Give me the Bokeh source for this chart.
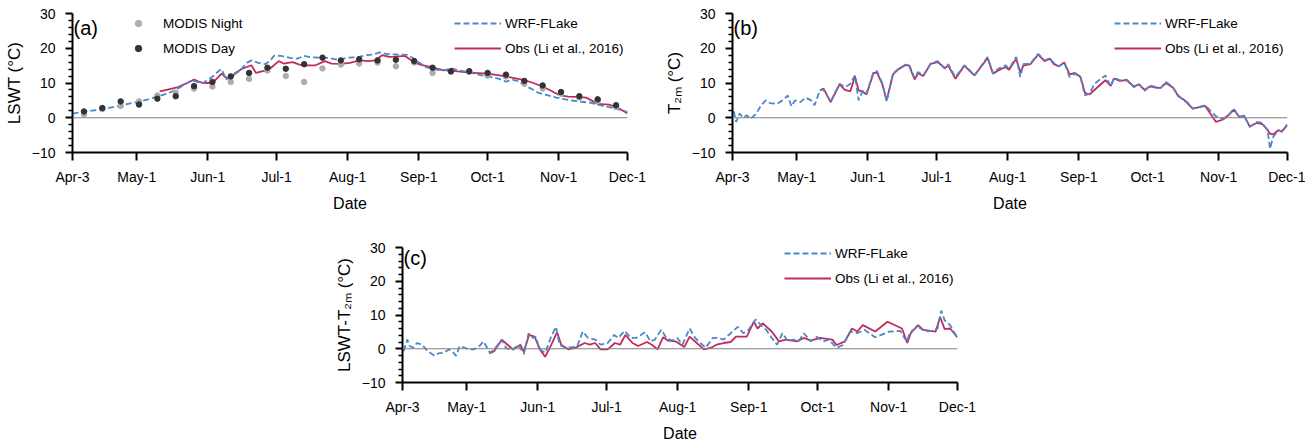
from bokeh.plotting import figure
from bokeh.models import Range1d, FixedTicker, Span, Legend, LegendItem, Label, Spacer
from bokeh.layouts import column, row
from bokeh.embed import file_html
from bokeh.resources import INLINE

# ---------------- data (days since Apr-3, values in degC) ----------------
tick_days = [0, 28, 59, 89, 120, 151, 181, 212, 242]
tick_labels = ["Apr-3", "May-1", "Jun-1", "Jul-1", "Aug-1", "Sep-1", "Oct-1", "Nov-1", "Dec-1"]
y_major = [-10, 0, 10, 20, 30]
y_minor = [-8, -6, -4, -2, 2, 4, 6, 8, 12, 14, 16, 18, 22, 24, 26, 28]

# (a) lake surface water temperature
a_wrf_day = [0, 6, 13, 20, 28, 33, 37, 41, 44, 48, 52, 54, 57, 61, 64, 65, 67, 70, 73, 76,
             78, 81, 84, 86, 88, 91, 95, 98, 101, 104, 108, 112, 116, 120, 124, 128, 131, 134, 137, 141,
             146, 149, 151, 154, 158, 162, 165, 168, 172, 177, 182, 186, 189, 192, 194, 197, 200, 203, 207, 211,
             217, 222, 226, 230, 235, 239, 242]
a_wrf_val = [1.2, 1.8, 2.4, 3.4, 4.5, 5.3, 6.1, 6.9, 7.7, 9.2, 10.8, 10.4, 10.0, 11.8, 13.6, 14.0, 11.0, 12.3, 13.5, 15.8,
             16.5, 15.8, 15.4, 16.3, 17.9, 17.8, 17.2, 17.0, 17.8, 17.4, 17.3, 17.2, 16.6, 17.3, 17.4, 18.0, 18.2, 18.8, 18.3, 18.2,
             18.1, 17.0, 16.0, 14.6, 13.9, 13.6, 14.2, 13.7, 13.2, 12.4, 11.8, 11.2, 10.4, 10.9, 10.6, 9.3, 8.4, 7.2, 6.5, 5.8,
             5.0, 4.6, 4.3, 3.6, 2.9, 2.3, 1.6]
a_obs_day = [38, 42, 46, 50, 53, 55, 57, 61, 63, 65, 67, 69, 71, 74, 78, 80, 83, 85, 88, 90,
             92, 96, 99, 102, 106, 110, 113, 117, 121, 125, 129, 132, 135, 138, 141, 145, 149, 152, 155, 161,
             167, 173, 181, 189, 197, 201, 205, 208, 212, 216, 220, 224, 229, 234, 238, 242]
a_obs_val = [7.6, 8.2, 8.8, 10.0, 11.0, 10.4, 10.0, 10.0, 11.3, 12.7, 11.5, 11.2, 12.9, 14.1, 15.1, 12.9, 13.4, 13.6, 15.2, 16.3,
             15.6, 16.0, 15.3, 15.1, 15.1, 16.3, 15.6, 15.5, 15.8, 16.5, 16.3, 16.5, 18.0, 17.5, 17.6, 17.8, 16.0, 15.2, 14.8, 13.8,
             13.4, 13.0, 12.7, 11.9, 10.8, 10.0, 9.0, 8.0, 6.6, 6.1, 6.0, 5.8, 4.0, 3.8, 2.8, 1.2]
modis_day = [5, 13, 21, 29, 37, 45, 53, 61, 69, 77, 85, 93, 101, 109, 117,
             125, 133, 141, 149, 157, 165, 173, 181, 189, 197, 205, 213, 221, 229, 237]
modis_day_val = [1.8, 2.8, 4.7, 3.8, 5.5, 6.2, 9.1, 10.3, 11.9, 12.9, 14.4, 14.1, 15.4, 17.3, 16.5,
                 16.8, 16.5, 16.7, 16.3, 14.4, 13.4, 13.4, 12.9, 12.4, 10.6, 9.3, 7.4, 6.2, 5.3, 3.6]
modis_night_val = [1.0, 2.5, 3.4, 4.7, 6.4, 7.2, 8.4, 9.0, 10.3, 11.2, 13.6, 12.0, 10.3, 14.2, 15.3,
                   15.6, 15.9, 14.8, 15.9, 12.9, 13.2, 13.2, 12.1, 11.9, 9.8, 8.4, 6.9, 5.8, 4.8, 3.1]

# (b) 2 m air temperature  (day, value)
b_wrf = [(0.5, 1.9), (1.6, -1.2), (3.1, 1.2), (4.7, 0.0), (6.3, 0.7), (7.8, -0.3), (10.1, 1.0), (12.5, 3.6),
         (14.5, 5.0), (16.4, 4.2), (19.5, 4.0), (21.8, 5.0), (24.1, 6.4), (25.7, 3.3), (27.2, 5.0), (29.6, 4.5),
         (31.9, 5.8), (34.3, 5.0), (35.8, 3.6), (38.1, 7.9), (39.7, 8.1), (42.8, 4.7), (46.7, 9.8), (49.0, 8.8),
         (51.4, 9.8), (53.4, 12.2), (55.0, 5.0), (56.8, 7.9), (58.4, 6.9), (61.5, 13.2), (63.0, 13.4), (65.4, 9.8),
         (67.2, 4.7), (70.0, 12.7), (72.4, 14.1), (75.5, 15.3), (77.0, 15.3), (79.4, 11.5), (80.9, 13.2), (83.2, 12.2),
         (86.4, 15.6), (89.5, 16.3), (92.6, 14.1), (94.1, 15.4), (97.2, 11.7), (101.1, 15.1), (103.5, 13.6), (105.5, 12.2),
         (108.1, 14.6), (111.2, 17.5), (113.6, 12.7), (115.9, 14.1), (119.0, 15.1), (120.6, 14.1), (123.7, 17.5), (125.5, 11.7),
         (126.8, 15.4), (129.9, 15.6), (133.3, 18.4), (136.1, 16.5), (138.4, 17.0), (140.0, 15.8), (142.3, 14.8), (144.7, 15.8),
         (147.0, 11.7), (149.3, 12.7), (151.7, 11.7), (153.7, 6.4), (155.6, 6.9), (157.9, 9.8), (160.2, 11.0), (162.6, 12.2),
         (164.9, 9.0), (166.4, 11.5), (168.8, 10.8), (171.9, 11.0), (175.0, 8.8), (177.3, 9.6), (179.7, 7.7), (182.0, 9.3),
         (185.1, 8.8), (186.7, 8.6), (189.0, 10.3), (192.1, 8.8), (194.4, 6.4), (196.8, 5.0), (198.3, 4.5), (200.7, 2.6),
         (206.1, 3.6), (210.8, 0.4), (213.9, -0.3), (216.2, 0.7), (218.6, 2.6), (220.9, 0.2), (223.2, 0.7), (225.5, -2.7),
         (228.6, -1.2), (231.0, -1.5), (233.3, -3.6), (234.4, -8.9), (235.7, -5.6), (238.0, -3.5), (239.5, -4.1), (241.9, -1.9)]
b_obs = [(38.1, 7.9), (39.7, 8.4), (42.8, 4.5), (46.7, 9.6), (49.0, 8.0), (51.4, 7.6), (53.4, 11.9), (55.0, 7.9),
         (56.8, 7.5), (58.4, 6.7), (61.5, 12.9), (63.0, 13.0), (65.4, 9.5), (67.2, 5.0), (70.0, 12.5), (72.4, 14.0),
         (75.5, 15.2), (77.0, 15.0), (79.4, 11.0), (80.9, 12.8), (83.2, 12.0), (86.4, 15.5), (89.5, 16.0), (92.6, 14.3),
         (94.1, 15.0), (97.2, 11.2), (101.1, 15.0), (103.5, 13.4), (105.5, 12.2), (108.1, 14.4), (111.2, 17.2), (113.6, 12.7),
         (115.9, 13.6), (119.0, 14.6), (120.6, 13.8), (123.7, 17.0), (125.5, 13.0), (126.8, 15.0), (129.9, 15.4), (133.3, 18.2),
         (136.1, 16.3), (138.4, 17.0), (140.0, 15.5), (142.3, 14.8), (144.7, 15.9), (147.0, 12.5), (149.3, 12.9), (151.7, 11.8),
         (153.7, 7.1), (155.6, 6.7), (162.6, 10.8), (164.9, 9.2), (166.4, 11.3), (168.8, 10.6), (171.9, 10.8), (175.0, 9.0),
         (177.3, 9.6), (179.7, 8.0), (182.0, 9.0), (185.1, 8.6), (186.7, 8.6), (189.0, 10.0), (192.1, 8.6), (194.4, 6.2),
         (196.8, 5.2), (198.3, 4.2), (200.7, 2.6), (206.1, 3.4), (210.8, -1.2), (213.9, -0.5), (216.2, 0.7), (218.6, 2.3),
         (220.9, 0.3), (223.2, 0.4), (225.5, -2.5), (228.6, -1.5), (231.0, -1.8), (233.3, -3.5), (234.4, -4.6), (235.7, -4.8),
         (238.0, -3.6), (239.5, -3.9), (241.9, -2.2)]

# (c) LSWT - T2m  (day, value)
c_wrf = [(0.5, -0.7), (2.1, 2.7), (3.1, 0.8), (4.7, 0.3), (6.3, 1.7), (8.6, 1.2), (10.9, -0.7), (14.0, -2.1),
         (15.6, -1.4), (17.9, -1.2), (20.3, -0.2), (21.8, -0.9), (23.4, -2.1), (24.9, 0.8), (27.2, 0.3), (28.8, -0.2),
         (31.1, -0.2), (33.5, 0.8), (35.3, 2.2), (38.1, -1.2), (40.0, -0.2), (43.3, 2.7), (45.1, 0.3), (47.5, -0.5),
         (50.6, 1.2), (52.9, -1.6), (55.0, 4.6), (56.8, 3.2), (58.0, 3.6), (59.9, -0.2), (62.2, -1.2), (64.6, 3.2),
         (66.9, 6.5), (68.5, 1.2), (70.8, 0.3), (73.9, 0.5), (76.2, 0.8), (78.6, 5.1), (80.9, 3.2), (84.0, 2.7),
         (86.4, 1.2), (89.5, 1.7), (92.3, 4.1), (94.1, 3.2), (96.9, 5.3), (99.6, 3.2), (101.9, 3.2), (105.8, 4.9),
         (108.1, 2.2), (110.0, 2.7), (112.8, 5.6), (115.1, 3.2), (117.5, 2.4), (119.8, 3.2), (122.1, 1.2), (125.2, 6.0),
         (127.6, 3.2), (129.9, 1.7), (132.2, 0.3), (135.3, 3.2), (137.7, 3.2), (140.0, 2.7), (143.1, 4.6), (146.2, 6.5),
         (148.6, 4.6), (150.9, 5.6), (154.0, 8.7), (156.3, 7.0), (158.6, 5.6), (161.0, 3.2), (163.3, 1.2), (165.7, 4.6),
         (168.0, 2.2), (170.3, 2.7), (172.7, 2.2), (175.0, 4.6), (178.1, 2.2), (180.4, 3.6), (183.5, 2.2), (185.9, 2.7),
         (189.3, 0.3), (192.1, 1.1), (195.2, 5.1), (198.3, 4.6), (201.4, 5.6), (206.1, 3.4), (212.3, 5.1), (217.0, 5.3),
         (219.8, 2.2), (221.6, 5.1), (224.8, 6.5), (227.9, 5.1), (231.0, 5.3), (233.3, 6.0), (234.9, 11.3), (236.4, 8.4),
         (238.8, 7.0), (240.3, 5.1), (241.9, 3.4)]
c_obs = [(37.8, -1.4), (40.0, -0.7), (43.3, 2.7), (45.9, 1.1), (48.2, -0.2), (51.4, 1.2), (52.9, -0.9), (55.2, 4.1),
         (57.6, 3.6), (59.9, -0.2), (62.2, -2.4), (64.6, 0.8), (67.4, 4.9), (69.2, 1.2), (72.4, -0.2), (75.5, 0.3),
         (79.4, 1.7), (81.7, 1.2), (84.0, 1.7), (86.4, -0.2), (89.5, -0.2), (92.6, 1.7), (94.9, 1.2), (97.2, 4.1),
         (100.3, 1.7), (102.7, 0.8), (106.6, 2.0), (108.9, 1.1), (111.2, -0.2), (113.6, 3.4), (115.9, 2.4), (119.0, 2.2),
         (122.9, 0.5), (125.2, 3.6), (128.3, 1.7), (131.4, -0.2), (134.6, 0.3), (136.9, 1.2), (140.0, 1.7), (143.1, 2.0),
         (145.4, 3.6), (150.1, 3.6), (153.2, 8.0), (154.8, 6.0), (157.1, 7.5), (161.0, 5.1), (164.1, 2.2), (167.2, 2.7),
         (171.9, 2.2), (175.0, 3.2), (178.1, 2.4), (182.0, 3.2), (187.4, 2.7), (189.3, 1.1), (192.9, 2.2), (196.0, 6.0),
         (198.3, 5.1), (200.7, 7.0), (206.1, 5.1), (211.5, 8.0), (217.8, 6.0), (220.1, 1.7), (221.6, 4.6), (224.8, 7.0),
         (227.1, 5.6), (232.5, 5.1), (234.4, 9.4), (236.4, 5.8), (238.8, 6.0), (241.9, 3.4)]

# ---------------- styling ----------------
FONT = "Liberation Sans"
BLUE = "#4A88C7"
RED = "#C42A5A"
DAY_C = "#333333"
NIGHT_C = "#ADADAD"


def unzip(pairs):
    return [d for d, _ in pairs], [v for _, v in pairs]


def make_panel(width, height, mbl, mbr, mbt, mbb, ylabel, tag):
    p = figure(width=width, height=height, x_range=Range1d(0, 242), y_range=Range1d(-10, 30),
               output_backend="svg", toolbar_location=None,
               min_border_left=mbl, min_border_right=mbr, min_border_top=mbt, min_border_bottom=mbb)
    p.outline_line_color = None
    p.xgrid.visible = False
    p.ygrid.visible = False

    xa = p.xaxis[0]
    xa.ticker = FixedTicker(ticks=tick_days, minor_ticks=[])
    xa.major_label_overrides = {d: l for d, l in zip(tick_days, tick_labels)}
    xa.axis_label = "Date"
    xa.axis_line_width = 2
    xa.axis_line_color = "black"
    xa.major_tick_line_width = 2
    xa.major_tick_line_color = "black"
    xa.major_tick_out = 8
    xa.major_tick_in = 0
    xa.minor_tick_line_color = None
    xa.major_label_standoff = 8
    xa.axis_label_standoff = 7

    ya = p.yaxis[0]
    ya.ticker = FixedTicker(ticks=y_major, minor_ticks=y_minor)
    ya.axis_label = ylabel
    ya.axis_line_width = 2
    ya.axis_line_color = "black"
    ya.major_tick_line_width = 2
    ya.major_tick_line_color = "black"
    ya.major_tick_out = 7
    ya.major_tick_in = 0
    ya.minor_tick_line_width = 1.5
    ya.minor_tick_line_color = "black"
    ya.minor_tick_out = 4
    ya.minor_tick_in = 0
    ya.major_label_standoff = 10
    ya.axis_label_standoff = 5

    for ax in (xa, ya):
        ax.major_label_text_font = FONT
        ax.major_label_text_font_size = "14px"
        ax.major_label_text_color = "black"
        ax.axis_label_text_font = FONT
        ax.axis_label_text_font_style = "normal"
        ax.axis_label_text_color = "black"
    xa.axis_label_text_font_size = "16px"
    ya.axis_label_text_font_size = "17px"

    p.add_layout(Span(location=0, dimension="width", line_color="#808080", line_width=1))
    p.add_layout(Label(x=1, y=125, x_units="screen", y_units="screen", text=tag,
                       text_font=FONT, text_font_size="20px", text_baseline="middle",
                       text_color="black"))
    return p


def legend_box(items, loc, glyph_w, standoff):
    return Legend(items=items, location=loc, padding=0, margin=0, spacing=5,
                  glyph_width=glyph_w, glyph_height=20, label_height=20,
                  label_standoff=standoff, label_text_font=FONT, label_text_font_size="13.5px",
                  label_text_color="black", border_line_color=None, background_fill_alpha=0)


def add_series(p, wrf_x, wrf_y, obs_x, obs_y):
    r_obs = p.line(obs_x, obs_y, line_color=RED, line_width=1.8)
    r_wrf = p.line(wrf_x, wrf_y, line_color=BLUE, line_width=1.8, line_dash="6 3")
    p.add_layout(legend_box([LegendItem(label="WRF-FLake", renderers=[r_wrf]),
                             LegendItem(label="Obs (Li et al., 2016)", renderers=[r_obs])],
                            (382, 94), 47, 4))


# ---------------- panels ----------------
pa = make_panel(660, 237, 72, 33, 13, 85, "LSWT (°C)", "(a)")
add_series(pa, a_wrf_day, a_wrf_val, a_obs_day, a_obs_val)
r_night = pa.scatter(modis_day, modis_night_val, size=5.5, marker="circle",
                     fill_color=NIGHT_C, line_color=NIGHT_C)
r_day = pa.scatter(modis_day, modis_day_val, size=5.5, marker="circle",
                   fill_color=DAY_C, line_color=DAY_C)
pa.add_layout(legend_box([LegendItem(label="MODIS Night", renderers=[r_night]),
                          LegendItem(label="MODIS Day", renderers=[r_day])],
                         (58, 94), 16, 17))

pb = make_panel(645, 237, 72, 18, 13, 85, "T₂ₘ (°C)", "(b)")
bwx, bwy = unzip(b_wrf)
box, boy = unzip(b_obs)
add_series(pb, bwx, bwy, box, boy)

pc = make_panel(660, 207, 72, 33, 10, 58, "LSWT-T₂ₘ (°C)", "(c)")
cwx, cwy = unzip(c_wrf)
cox, coy = unzip(c_obs)
add_series(pc, cwx, cwy, cox, coy)

layout = column(row(pa, pb), row(Spacer(width=330, height=207), pc))

open("out.html", "w").write(file_html(layout, INLINE))
